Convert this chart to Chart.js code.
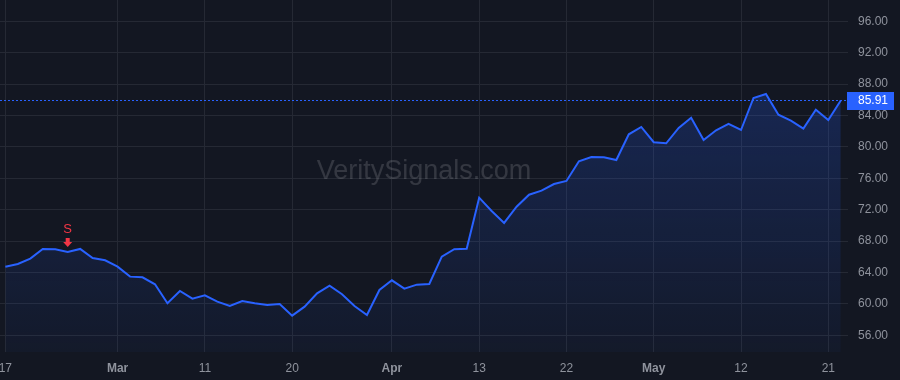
<!DOCTYPE html>
<html>
<head>
<meta charset="utf-8">
<script src="https://cdn.jsdelivr.net/npm/chart.js@4.4.1/dist/chart.umd.min.js"></script>
<style>
  html, body { margin: 0; padding: 0; background: #131722; }
  #chart { display: block; }
</style>
</head>
<body>
<canvas id="chart" width="900" height="380"></canvas>
<script>
// price per bar
var prices = [
	64.74, 65.08, 65.76, 67.00, 66.96, 66.61, 67.00, 65.85, 65.55, 64.74,
	63.47, 63.39, 62.50, 60.08, 61.64, 60.66, 61.09, 60.28, 59.73, 60.37,
	60.08, 59.86, 59.99, 58.50, 59.65, 61.35, 62.32, 61.22, 59.73, 58.59,
	61.77, 63.00, 61.94, 62.45, 62.53, 66.02, 66.96, 67.03, 73.53, 71.83,
	70.31, 72.38, 73.91, 74.42, 75.27, 75.66, 78.17, 78.71, 78.67, 78.33,
	81.60, 82.54, 80.59, 80.46, 82.41, 83.72, 80.88, 82.11, 82.92, 82.15,
	86.23, 86.74, 84.10, 83.34, 82.32, 84.74, 83.43, 85.91
];

// bar index of each date label on the time axis
var dateTickIndex = [0, 9, 16, 23, 31, 38, 45, 52, 59, 66];
var dateTickText = ['17', 'Mar', '11', '20', 'Apr', '13', '22', 'May', '12', '21'];
var monthTicks = ['Mar', 'Apr', 'May'];

var priceTicks = [56, 60, 64, 68, 72, 76, 80, 84, 88, 92, 96];

// sell signal
var signalIndex = [5];
var signalText = ['S'];

var watermark = 'VeritySignals.com';

var FONT = "'Liberation Sans', Arial, sans-serif";

function no_padding(scale){
	scale.paddingTop = 0;
	scale.paddingBottom = 0;
	scale.paddingLeft = 0;
	scale.paddingRight = 0;
}

var overlay_plugin = {
	id: 'overlay',
	beforeDatasetsDraw: function(chart){
		var ctx = chart.ctx;
		ctx.save();
		ctx.font = '27px ' + FONT;
		ctx.fillStyle = 'rgba(255,255,255,0.14)';
		ctx.textAlign = 'center';
		ctx.textBaseline = 'middle';
		ctx.fillText(watermark, 424, 172);
		ctx.restore();
	},
	afterDraw: function(chart){
		var ctx = chart.ctx;
		var area = chart.chartArea;
		var xs = chart.scales.x;
		var ys = chart.scales.y;
		ctx.save();

		// dotted last price line
		var last = prices[prices.length - 1];
		var ly = ys.getPixelForValue(last);
		var lyl = Math.round(ly) + 0.5;
		ctx.strokeStyle = '#2962ff';
		ctx.lineWidth = 1;
		ctx.setLineDash([2, 2]);
		ctx.beginPath();
		ctx.moveTo(area.left, lyl);
		ctx.lineTo(area.right, lyl);
		ctx.stroke();
		ctx.setLineDash([]);

		// last price tag
		ctx.fillStyle = '#2962ff';
		ctx.fillRect(ys.left - 1, Math.round(ly) - 8, 47, 18);
		ctx.fillStyle = '#ffffff';
		ctx.font = '12px ' + FONT;
		ctx.textAlign = 'left';
		ctx.textBaseline = 'middle';
		ctx.fillText(last.toFixed(2), ys.left + 10, Math.round(ly) + 1);

		// signal markers
		for (var i = 0; i < signalIndex.length; i++){
			var px = xs.getPixelForValue(signalIndex[i]);
			var py = ys.getPixelForValue(prices[signalIndex[i]]);
			ctx.fillStyle = '#f23645';
			ctx.font = '13px ' + FONT;
			ctx.textAlign = 'center';
			ctx.textBaseline = 'middle';
			ctx.fillText(signalText[i], px, py - 23);
			ctx.fillRect(px - 2, py - 14, 4, 5);
			ctx.beginPath();
			ctx.moveTo(px - 4.5, py - 10);
			ctx.lineTo(px + 4.5, py - 10);
			ctx.lineTo(px, py - 5);
			ctx.closePath();
			ctx.fill();
		}
		ctx.restore();
	}
};

function init_chart_price(){

	if( typeof (Chart) === 'undefined'){ return; }

	var points = prices.map(function(v, i){ return { x: i, y: v }; });

	var chart_settings = {
		type: 'line',
		data: {
			datasets: [{
				data: points,
				borderColor: '#2962ff',
				borderWidth: 2,
				pointRadius: 0,
				tension: 0,
				fill: 'start',
				backgroundColor: function(context){
					var chart = context.chart;
					var area = chart.chartArea;
					if (!area) { return 'rgba(41,98,255,0.1)'; }
					var g = chart.ctx.createLinearGradient(0, area.top + 90, 0, area.bottom);
					g.addColorStop(0, 'rgba(41,98,255,0.22)');
					g.addColorStop(1, 'rgba(41,98,255,0.04)');
					return g;
				}
			}]
		},
		options: {
			responsive: false,
			animation: false,
			layout: { padding: 0, autoPadding: false },
			plugins: {
				legend: { display: false },
				tooltip: { enabled: false }
			},
			scales: {
				x: {
					type: 'linear',
					position: 'bottom',
					min: -0.43,
					max: 67.58,
					afterBuildTicks: function(scale){
						scale.ticks = dateTickIndex.map(function(v){ return { value: v }; });
					},
					afterFit: function(scale){ scale.height = 28; no_padding(scale); },
					grid: { color: '#252934', drawTicks: false },
					border: { display: false },
					ticks: {
						autoSkip: false,
						maxRotation: 0,
						padding: 9,
						color: '#8f939d',
						font: function(ctx){
							var t = dateTickText[dateTickIndex.indexOf(ctx.tick && ctx.tick.value)];
							var bold = monthTicks.indexOf(t) >= 0;
							return { family: FONT, size: 12, weight: bold ? 'bold' : 'normal' };
						},
						callback: function(value){
							return dateTickText[dateTickIndex.indexOf(value)];
						}
					}
				},
				y: {
					type: 'linear',
					position: 'right',
					min: 53.87,
					max: 98.71,
					afterBuildTicks: function(scale){
						scale.ticks = priceTicks.map(function(v){ return { value: v }; });
					},
					afterFit: function(scale){ scale.width = 52; no_padding(scale); },
					grid: { color: '#252934', drawTicks: false },
					border: { display: false },
					ticks: {
						padding: 10,
						color: '#8f939d',
						font: { family: FONT, size: 12 },
						callback: function(value){ return value.toFixed(2); }
					}
				}
			}
		},
		plugins: [overlay_plugin]
	};

	var chart_price = new Chart(document.getElementById('chart'), chart_settings);
}

init_chart_price();
</script>
</body>
</html>
